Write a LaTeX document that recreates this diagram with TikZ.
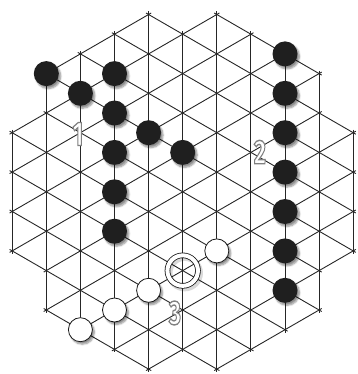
\documentclass[tikz,border=0pt]{standalone}
\usepackage{fontspec}
\setsansfont{Fira Sans}
\usetikzlibrary{shadows.blur}

% white digit with a grey rim
\newcommand{\rimtext}[1]{\special{pdf:literal direct 2 Tr 1.4 w 0.5 G}#1\special{pdf:literal direct 0 Tr}}

\tikzset{
  grid line/.style={line width=0.9pt, draw=black!85, shorten <=-3pt, shorten >=-3pt},
  stone shadow/.style={blur shadow={shadow xshift=2pt, shadow yshift=-2.5pt, shadow blur steps=6, shadow opacity=45}},
  black stone/.style={circle, fill=black!88, minimum size=25pt, inner sep=0pt, stone shadow},
  white stone/.style={circle, draw=black!90, line width=0.8pt, fill=white, minimum size=24pt, inner sep=0pt, stone shadow},
  marked point/.style={circle, draw=black!90, line width=0.8pt, double=white, double distance=4pt, minimum size=30.5pt, inner sep=0pt},
  move label/.style={font=\sffamily\bfseries\fontsize{34}{34}\selectfont, text=white, xscale=0.68, inner sep=0pt}
}

\begin{document}
\begin{tikzpicture}[x=1pt,y=-1pt]
  \useasboundingbox (0,0) rectangle (357,374);
  % lattice points: column i, half-row k
  \foreach \i in {0,...,10}
    \foreach \k in {0,...,18}
      \coordinate (p\i-\k) at ({12.2+34.1*\i},{14.5+19.7*\k});

  % columns
  \foreach \a/\b in {0-6/0-12, 1-3/1-15, 2-2/2-16, 3-1/3-17, 4-0/4-18, 5-1/5-17,
                     6-0/6-18, 7-1/7-17, 8-2/8-16, 9-3/9-15, 10-6/10-12}
    \draw[grid line] (p\a) -- (p\b);
  % falling diagonals
  \foreach \a/\b in {6-0/9-3, 4-0/10-6, 3-1/10-8, 2-2/10-10, 1-3/10-12, 1-5/9-13,
                     0-6/9-15, 0-8/8-16, 0-10/7-17, 0-12/6-18, 1-15/4-18}
    \draw[grid line] (p\a) -- (p\b);
  % rising diagonals
  \foreach \a/\b in {1-3/4-0, 0-6/6-0, 0-8/7-1, 0-10/8-2, 0-12/9-3, 1-13/9-5,
                     1-15/10-6, 2-16/10-8, 3-17/10-10, 4-18/10-12, 6-18/9-15}
    \draw[grid line] (p\a) -- (p\b);

  % black stones
  \foreach \s in {1-3, 2-4, 3-3, 3-5, 4-6, 5-7, 3-7, 3-9, 3-11,
                  8-2, 8-4, 8-6, 8-8, 8-10, 8-12, 8-14}
    \node[black stone] (b\s) at (p\s) {};
  % white stones
  \foreach \s in {2-16, 3-15, 4-14, 6-12}
    \node[white stone] (w\s) at (p\s) {};

  % marked point
  \draw[line width=6pt, black, opacity=0.15] ([shift={(2,2.5)}]p5-13) circle (15.25);
  \node[marked point] (mark) at (p5-13) {};

  % move numbers
  \foreach \n/\x/\y in {1/78/134, 2/260/152, 3/175/313}
    \node[move label] (m\n) at (\x,\y) {\rimtext{\n}};
\end{tikzpicture}
\end{document}
